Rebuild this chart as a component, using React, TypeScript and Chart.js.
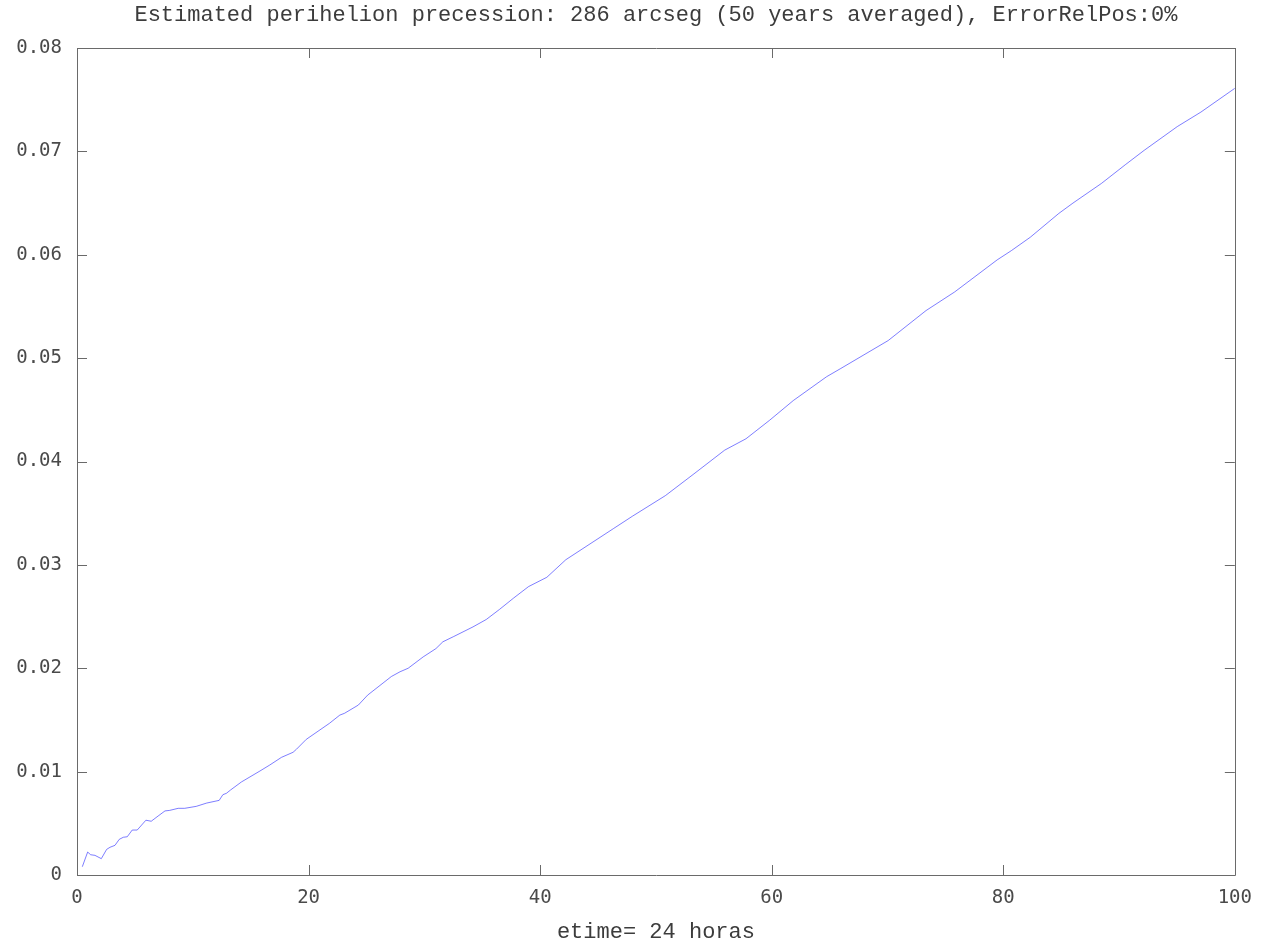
import React, { useEffect, useRef } from "react";
import { Chart, registerables } from "chart.js";

Chart.register(...registerables);

const titleText = "Estimated perihelion precession: 286 arcseg (50 years averaged), ErrorRelPos:0%";
const xAxisLabel = "etime= 24 horas";

const xValues = [
  0.46, 0.92, 1.18, 1.55, 2.1, 2.56, 2.85, 3.28, 3.65, 4.0, 4.34, 4.77, 5.2, 5.95, 6.41, 7.0,
  7.6, 8.0, 8.74, 9.3, 10.3, 11.2, 12.28, 12.6, 12.9, 13.26, 14.2, 15.8, 16.65, 17.66, 18.66,
  18.95, 19.8, 21.8, 22.7, 23.1, 24.3, 25.1, 27.15, 27.9, 28.6, 29.9, 31.0, 31.6, 32.5, 34.2,
  35.35, 36.5, 37.72, 39.0, 40.58, 42.22, 46.32, 47.96, 50.82, 53.28, 55.94, 57.78, 59.83,
  61.87, 64.74, 65.97, 70.06, 73.33, 75.8, 79.47, 80.7, 82.34, 84.8, 86.02, 88.48, 90.53,
  92.17, 95.03, 97.07, 100,
];

const yValues = [
  0.0008, 0.00222, 0.00196, 0.0019, 0.00158, 0.00248, 0.00268, 0.00287, 0.00345, 0.00365,
  0.0037, 0.00435, 0.00435, 0.0053, 0.0052, 0.0057, 0.0062, 0.00625, 0.00645, 0.00645,
  0.00664, 0.00696, 0.00722, 0.00777, 0.0079, 0.00822, 0.009, 0.01006, 0.01064, 0.01138,
  0.01187, 0.01216, 0.01312, 0.01467, 0.01547, 0.01564, 0.01644, 0.0174, 0.0192, 0.01966,
  0.02, 0.0211, 0.0219, 0.02256, 0.02305, 0.024, 0.02472, 0.0257, 0.0268, 0.0279, 0.0288,
  0.0305, 0.0335, 0.0347, 0.0367, 0.0388, 0.0411, 0.0422, 0.044, 0.0459, 0.0482, 0.049,
  0.0517, 0.0546, 0.0564, 0.0595, 0.0604, 0.0617, 0.064, 0.065, 0.0669, 0.0687, 0.0701,
  0.0724, 0.0738, 0.0761,
];

const xTicks = [0, 20, 40, 60, 80, 100];
const yTicks = [0, 0.01, 0.02, 0.03, 0.04, 0.05, 0.06, 0.07, 0.08];

const frameColor = "#6a6a6a";
const titleColor = "#3c3c3c";
const tickColor = "#4a4a4a";
const lineColor = "rgba(40,40,255,0.6)";
const monoFont = "'Liberation Mono', 'Courier New', monospace";
const tickFont = "'DejaVu Sans Mono', monospace";

const framePlugin = {
  id: "gnuplotFrame",
  afterDraw(chart: any) {
    const { ctx, chartArea } = chart;
    const { left, right, top, bottom } = chartArea;
    const xs = chart.scales.x;
    const ys = chart.scales.y;
    const tl = 10;
    ctx.save();
    ctx.strokeStyle = frameColor;
    ctx.lineWidth = 1;
    ctx.beginPath();
    ctx.rect(Math.round(left) + 0.5, Math.round(top) + 0.5, Math.round(right - left), Math.round(bottom - top));
    ctx.stroke();
    ctx.beginPath();
    xTicks.forEach((v) => {
      const px = Math.round(xs.getPixelForValue(v)) + 0.5;
      ctx.moveTo(px, bottom);
      ctx.lineTo(px, bottom - tl);
      ctx.moveTo(px, top);
      ctx.lineTo(px, top + tl);
    });
    yTicks.forEach((v) => {
      const py = Math.round(ys.getPixelForValue(v)) + 0.5;
      ctx.moveTo(left, py);
      ctx.lineTo(left + tl, py);
      ctx.moveTo(right, py);
      ctx.lineTo(right - tl, py);
    });
    ctx.stroke();

    ctx.fillStyle = titleColor;
    ctx.font = `22px ${monoFont}`;
    ctx.textAlign = "center";
    ctx.textBaseline = "middle";
    ctx.fillText(titleText, (left + right) / 2, 15);
    ctx.fillText(xAxisLabel, (left + right) / 2, 932);
    ctx.restore();
  },
};

export default function App() {
  const canvasRef = useRef<HTMLCanvasElement | null>(null);

  useEffect(() => {
    document.body.style.margin = "0";
    const canvas = canvasRef.current;
    if (!canvas) return;
    const points = xValues.map((x, i) => ({ x, y: yValues[i] }));
    const chart = new Chart(canvas, {
      type: "line",
      data: {
        datasets: [
          {
            data: points,
            borderColor: lineColor,
            borderWidth: 1,
            pointRadius: 0,
            fill: false,
            tension: 0,
          },
        ],
      },
      options: {
        animation: false,
        responsive: false,
        maintainAspectRatio: false,
        layout: { padding: { left: 0, top: 48, right: 28, bottom: 0 } },
        plugins: {
          legend: { display: false },
          title: { display: false },
          tooltip: { enabled: false },
        },
        scales: {
          x: {
            type: "linear",
            min: 0,
            max: 100,
            afterFit: (s: any) => {
              s.height = 67;
            },
            afterBuildTicks: (s: any) => {
              s.ticks = xTicks.map((v) => ({ value: v }));
            },
            grid: { display: false, drawTicks: false },
            border: { display: false },
            ticks: {
              padding: 12,
              color: tickColor,
              font: { family: tickFont, size: 19 },
              maxRotation: 0,
              callback: (v: any) => String(v),
            },
          },
          y: {
            type: "linear",
            min: 0,
            max: 0.08,
            afterFit: (s: any) => {
              s.width = 77;
            },
            afterBuildTicks: (s: any) => {
              s.ticks = yTicks.map((v) => ({ value: v }));
            },
            grid: { display: false, drawTicks: false },
            border: { display: false },
            ticks: {
              padding: 15,
              color: tickColor,
              font: { family: tickFont, size: 19 },
              callback: (v: any) => (Number(v) === 0 ? "0" : Number(v).toFixed(2)),
            },
          },
        },
      },
      plugins: [framePlugin],
    });
    return () => chart.destroy();
  }, []);

  return (
    <div style={{ position: "absolute", left: 0, top: 0, width: 1264, height: 942, background: "#fff" }}>
      <canvas ref={canvasRef} width={1264} height={942} style={{ width: 1264, height: 942 }} />
    </div>
  );
}
